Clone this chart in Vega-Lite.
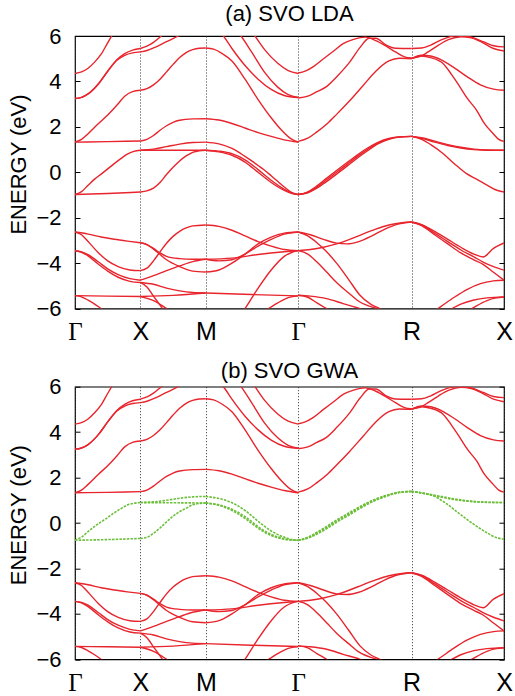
{
"$schema": "https://vega.github.io/schema/vega-lite/v6.json",
"background": "white",
"padding": {"left": 7, "top": 2, "right": 0, "bottom": 0},
"bounds": "flush",
"spacing": 77.7,
"config": {"view": {"stroke": "black", "strokeWidth": 1.2}, "font": "Liberation Sans"},
"datasets": {
"red": [
{"b":"GX1","k":0,"e":4.35},{"b":"GX1","k":0.05,"e":4.42},{"b":"GX1","k":0.1,"e":4.58},{"b":"GX1","k":0.15,"e":4.85},{"b":"GX1","k":0.2,"e":5.2},{"b":"GX1","k":0.25,"e":5.7},{"b":"GX1","k":0.3,"e":6.2},
{"b":"GX2a","k":0,"e":3.25},{"b":"GX2a","k":0.05,"e":3.3},{"b":"GX2a","k":0.1,"e":3.45},{"b":"GX2a","k":0.18,"e":3.9},{"b":"GX2a","k":0.25,"e":4.45},{"b":"GX2a","k":0.32,"e":4.95},{"b":"GX2a","k":0.38,"e":5.22},{"b":"GX2a","k":0.44,"e":5.38},{"b":"GX2a","k":0.5,"e":5.45},
{"b":"GX2b","k":0,"e":3.25},{"b":"GX2b","k":0.05,"e":3.3},{"b":"GX2b","k":0.1,"e":3.45},{"b":"GX2b","k":0.18,"e":3.9},{"b":"GX2b","k":0.25,"e":4.45},{"b":"GX2b","k":0.32,"e":4.93},{"b":"GX2b","k":0.38,"e":5.15},{"b":"GX2b","k":0.44,"e":5.26},{"b":"GX2b","k":0.5,"e":5.3},
{"b":"GX3","k":0,"e":1.33},{"b":"GX3","k":0.05,"e":1.45},{"b":"GX3","k":0.1,"e":1.7},{"b":"GX3","k":0.18,"e":2.15},{"b":"GX3","k":0.25,"e":2.52},{"b":"GX3","k":0.32,"e":2.95},{"b":"GX3","k":0.38,"e":3.35},{"b":"GX3","k":0.44,"e":3.55},{"b":"GX3","k":0.5,"e":3.61},
{"b":"GX4","k":0,"e":1.33},{"b":"GX4","k":0.25,"e":1.35},{"b":"GX4","k":0.5,"e":1.38},
{"b":"OGX1","k":0,"e":-2.63},{"b":"OGX1","k":0.1,"e":-2.72},{"b":"OGX1","k":0.2,"e":-2.85},{"b":"OGX1","k":0.3,"e":-2.95},{"b":"OGX1","k":0.4,"e":-3.03},{"b":"OGX1","k":0.5,"e":-3.1},
{"b":"OGX2","k":0,"e":-2.63},{"b":"OGX2","k":0.05,"e":-2.75},{"b":"OGX2","k":0.1,"e":-3.05},{"b":"OGX2","k":0.18,"e":-3.55},{"b":"OGX2","k":0.25,"e":-3.9},{"b":"OGX2","k":0.33,"e":-4.15},{"b":"OGX2","k":0.42,"e":-4.3},{"b":"OGX2","k":0.5,"e":-4.33},
{"b":"OGX3","k":0,"e":-3.45},{"b":"OGX3","k":0.05,"e":-3.5},{"b":"OGX3","k":0.1,"e":-3.62},{"b":"OGX3","k":0.18,"e":-3.95},{"b":"OGX3","k":0.25,"e":-4.25},{"b":"OGX3","k":0.33,"e":-4.5},{"b":"OGX3","k":0.42,"e":-4.68},{"b":"OGX3","k":0.5,"e":-4.75},
{"b":"OGX4","k":0,"e":-3.45},{"b":"OGX4","k":0.05,"e":-3.52},{"b":"OGX4","k":0.1,"e":-3.68},{"b":"OGX4","k":0.18,"e":-4.05},{"b":"OGX4","k":0.25,"e":-4.35},{"b":"OGX4","k":0.33,"e":-4.62},{"b":"OGX4","k":0.42,"e":-4.8},{"b":"OGX4","k":0.5,"e":-4.85},
{"b":"OGX5","k":0,"e":-5.43},{"b":"OGX5","k":0.25,"e":-5.45},{"b":"OGX5","k":0.5,"e":-5.47},
{"b":"OGX6","k":0,"e":-5.43},{"b":"OGX6","k":0.05,"e":-5.48},{"b":"OGX6","k":0.1,"e":-5.63},{"b":"OGX6","k":0.15,"e":-5.8},{"b":"OGX6","k":0.2,"e":-6.0},{"b":"OGX6","k":0.25,"e":-6.2},
{"b":"XM1","k":0.5,"e":5.45},{"b":"XM1","k":0.55,"e":5.55},{"b":"XM1","k":0.6,"e":5.72},{"b":"XM1","k":0.66,"e":6.0},{"b":"XM1","k":0.72,"e":6.3},
{"b":"XM2","k":0.5,"e":5.3},{"b":"XM2","k":0.55,"e":5.36},{"b":"XM2","k":0.62,"e":5.52},{"b":"XM2","k":0.7,"e":5.75},{"b":"XM2","k":0.79,"e":6.0},{"b":"XM2","k":0.85,"e":6.2},
{"b":"XM3","k":0.5,"e":3.61},{"b":"XM3","k":0.55,"e":3.68},{"b":"XM3","k":0.6,"e":3.85},{"b":"XM3","k":0.65,"e":4.1},{"b":"XM3","k":0.7,"e":4.42},{"b":"XM3","k":0.75,"e":4.75},{"b":"XM3","k":0.8,"e":5.05},{"b":"XM3","k":0.85,"e":5.27},{"b":"XM3","k":0.9,"e":5.4},{"b":"XM3","k":0.95,"e":5.46},{"b":"XM3","k":1.0,"e":5.47},
{"b":"XM4","k":0.5,"e":1.38},{"b":"XM4","k":0.55,"e":1.45},{"b":"XM4","k":0.6,"e":1.62},{"b":"XM4","k":0.65,"e":1.85},{"b":"XM4","k":0.7,"e":2.05},{"b":"XM4","k":0.75,"e":2.2},{"b":"XM4","k":0.8,"e":2.29},{"b":"XM4","k":0.9,"e":2.35},{"b":"XM4","k":1.0,"e":2.36},
{"b":"OXM1","k":0.5,"e":-3.1},{"b":"OXM1","k":0.55,"e":-3.18},{"b":"OXM1","k":0.6,"e":-3.35},{"b":"OXM1","k":0.65,"e":-3.55},{"b":"OXM1","k":0.7,"e":-3.7},{"b":"OXM1","k":0.8,"e":-3.8},{"b":"OXM1","k":0.9,"e":-3.83},{"b":"OXM1","k":1.0,"e":-3.83},
{"b":"OXM2","k":0.5,"e":-3.1},{"b":"OXM2","k":0.55,"e":-3.18},{"b":"OXM2","k":0.6,"e":-3.38},{"b":"OXM2","k":0.65,"e":-3.62},{"b":"OXM2","k":0.7,"e":-3.85},{"b":"OXM2","k":0.8,"e":-4.15},{"b":"OXM2","k":0.9,"e":-4.35},{"b":"OXM2","k":1.0,"e":-4.39},
{"b":"OXM3","k":0.5,"e":-4.33},{"b":"OXM3","k":0.55,"e":-4.22},{"b":"OXM3","k":0.6,"e":-3.9},{"b":"OXM3","k":0.65,"e":-3.5},{"b":"OXM3","k":0.7,"e":-3.12},{"b":"OXM3","k":0.75,"e":-2.82},{"b":"OXM3","k":0.8,"e":-2.6},{"b":"OXM3","k":0.85,"e":-2.45},{"b":"OXM3","k":0.9,"e":-2.36},{"b":"OXM3","k":1.0,"e":-2.32},
{"b":"OXM4","k":0.5,"e":-4.75},{"b":"OXM4","k":0.6,"e":-4.55},{"b":"OXM4","k":0.7,"e":-4.33},{"b":"OXM4","k":0.8,"e":-4.12},{"b":"OXM4","k":0.9,"e":-3.93},{"b":"OXM4","k":1.0,"e":-3.83},
{"b":"OXM5","k":0.5,"e":-4.85},{"b":"OXM5","k":0.6,"e":-4.93},{"b":"OXM5","k":0.7,"e":-5.1},{"b":"OXM5","k":0.8,"e":-5.22},{"b":"OXM5","k":0.9,"e":-5.29},{"b":"OXM5","k":1.0,"e":-5.31},
{"b":"OXM6","k":0.5,"e":-5.47},{"b":"OXM6","k":0.75,"e":-5.42},{"b":"OXM6","k":1.0,"e":-5.31},
{"b":"OXM7","k":0.5,"e":-4.85},{"b":"OXM7","k":0.55,"e":-5.05},{"b":"OXM7","k":0.6,"e":-5.45},{"b":"OXM7","k":0.65,"e":-5.85},{"b":"OXM7","k":0.7,"e":-6.25},
{"b":"OXM8","k":0.5,"e":-5.47},{"b":"OXM8","k":0.6,"e":-5.65},{"b":"OXM8","k":0.7,"e":-6.0},{"b":"OXM8","k":0.75,"e":-6.2},
{"b":"MG1","k":1.0,"e":5.47},{"b":"MG1","k":1.06,"e":5.42},{"b":"MG1","k":1.12,"e":5.25},{"b":"MG1","k":1.2,"e":4.9},{"b":"MG1","k":1.3,"e":4.1},{"b":"MG1","k":1.4,"e":3.2},{"b":"MG1","k":1.5,"e":2.4},{"b":"MG1","k":1.58,"e":1.85},{"b":"MG1","k":1.65,"e":1.48},{"b":"MG1","k":1.7071,"e":1.33},
{"b":"MG2","k":1.0,"e":2.36},{"b":"MG2","k":1.1,"e":2.3},{"b":"MG2","k":1.2,"e":2.15},{"b":"MG2","k":1.3,"e":1.95},{"b":"MG2","k":1.4,"e":1.75},{"b":"MG2","k":1.5,"e":1.58},{"b":"MG2","k":1.6,"e":1.43},{"b":"MG2","k":1.7071,"e":1.33},
{"b":"MG3","k":1.05,"e":6.5},{"b":"MG3","k":1.135,"e":6.0},{"b":"MG3","k":1.2,"e":5.45},{"b":"MG3","k":1.3,"e":4.7},{"b":"MG3","k":1.4,"e":4.1},{"b":"MG3","k":1.5,"e":3.65},{"b":"MG3","k":1.6,"e":3.38},{"b":"MG3","k":1.7071,"e":3.29},
{"b":"MG4","k":1.2,"e":6.5},{"b":"MG4","k":1.27,"e":6.0},{"b":"MG4","k":1.35,"e":5.3},{"b":"MG4","k":1.45,"e":4.4},{"b":"MG4","k":1.55,"e":3.75},{"b":"MG4","k":1.63,"e":3.42},{"b":"MG4","k":1.7071,"e":3.29},
{"b":"MG5","k":1.3,"e":6.6},{"b":"MG5","k":1.376,"e":6.0},{"b":"MG5","k":1.45,"e":5.4},{"b":"MG5","k":1.55,"e":4.8},{"b":"MG5","k":1.63,"e":4.48},{"b":"MG5","k":1.7071,"e":4.35},
{"b":"OMG1","k":1.0,"e":-2.32},{"b":"OMG1","k":1.1,"e":-2.38},{"b":"OMG1","k":1.2,"e":-2.55},{"b":"OMG1","k":1.3,"e":-2.8},{"b":"OMG1","k":1.4,"e":-3.05},{"b":"OMG1","k":1.5,"e":-3.25},{"b":"OMG1","k":1.6,"e":-3.4},{"b":"OMG1","k":1.7071,"e":-3.45},
{"b":"OMG2","k":1.0,"e":-3.83},{"b":"OMG2","k":1.2,"e":-3.78},{"b":"OMG2","k":1.4,"e":-3.62},{"b":"OMG2","k":1.6,"e":-3.5},{"b":"OMG2","k":1.7071,"e":-3.45},
{"b":"OMG3","k":1.0,"e":-3.83},{"b":"OMG3","k":1.1,"e":-3.9},{"b":"OMG3","k":1.2,"e":-3.85},{"b":"OMG3","k":1.3,"e":-3.6},{"b":"OMG3","k":1.4,"e":-3.25},{"b":"OMG3","k":1.5,"e":-2.95},{"b":"OMG3","k":1.6,"e":-2.72},{"b":"OMG3","k":1.7071,"e":-2.63},
{"b":"OMG4","k":1.0,"e":-4.39},{"b":"OMG4","k":1.1,"e":-4.3},{"b":"OMG4","k":1.2,"e":-4.0},{"b":"OMG4","k":1.3,"e":-3.6},{"b":"OMG4","k":1.4,"e":-3.15},{"b":"OMG4","k":1.5,"e":-2.85},{"b":"OMG4","k":1.6,"e":-2.68},{"b":"OMG4","k":1.7071,"e":-2.63},
{"b":"OMG5","k":1.0,"e":-5.31},{"b":"OMG5","k":1.35,"e":-5.38},{"b":"OMG5","k":1.7071,"e":-5.44},
{"b":"OMG6","k":1.25,"e":-6.4},{"b":"OMG6","k":1.3,"e":-6.0},{"b":"OMG6","k":1.4,"e":-5.1},{"b":"OMG6","k":1.5,"e":-4.3},{"b":"OMG6","k":1.6,"e":-3.7},{"b":"OMG6","k":1.66,"e":-3.52},{"b":"OMG6","k":1.7071,"e":-3.45},
{"b":"OMG7","k":1.42,"e":-6.2},{"b":"OMG7","k":1.48,"e":-6.0},{"b":"OMG7","k":1.55,"e":-5.75},{"b":"OMG7","k":1.63,"e":-5.52},{"b":"OMG7","k":1.7071,"e":-5.44},
{"b":"GReg","k":1.7071,"e":1.36},{"b":"GReg","k":1.78,"e":1.5},{"b":"GReg","k":1.85,"e":1.78},{"b":"GReg","k":1.93,"e":2.15},{"b":"GReg","k":2.0,"e":2.55},{"b":"GReg","k":2.1,"e":3.15},{"b":"GReg","k":2.2,"e":3.8},{"b":"GReg","k":2.3,"e":4.45},{"b":"GReg","k":2.4,"e":4.9},{"b":"GReg","k":2.48,"e":5.02},{"b":"GReg","k":2.5731,"e":5.0},
{"b":"GRp","k":1.7071,"e":3.27},{"b":"GRp","k":1.78,"e":3.35},{"b":"GRp","k":1.85,"e":3.55},{"b":"GRp","k":1.92,"e":3.76},{"b":"GRp","k":2.0,"e":4.2},{"b":"GRp","k":2.1,"e":4.85},{"b":"GRp","k":2.18,"e":5.5},{"b":"GRp","k":2.25,"e":5.9},{"b":"GRp","k":2.3,"e":5.9},{"b":"GRp","k":2.38,"e":5.6},{"b":"GRp","k":2.45,"e":5.46},{"b":"GRp","k":2.5731,"e":5.45},
{"b":"GRq","k":1.7071,"e":4.37},{"b":"GRq","k":1.76,"e":4.45},{"b":"GRq","k":1.82,"e":4.64},{"b":"GRq","k":1.9,"e":5.0},{"b":"GRq","k":1.98,"e":5.35},{"b":"GRq","k":2.05,"e":5.66},{"b":"GRq","k":2.13,"e":5.85},{"b":"GRq","k":2.22,"e":5.95},{"b":"GRq","k":2.3,"e":5.8},{"b":"GRq","k":2.38,"e":5.55},{"b":"GRq","k":2.45,"e":5.3},{"b":"GRq","k":2.52,"e":5.08},{"b":"GRq","k":2.5731,"e":5.03},
{"b":"OGR1","k":1.7071,"e":-2.63},{"b":"OGR1","k":1.8,"e":-2.75},{"b":"OGR1","k":1.9,"e":-2.95},{"b":"OGR1","k":2.0,"e":-3.12},{"b":"OGR1","k":2.08,"e":-3.15},{"b":"OGR1","k":2.17,"e":-3.05},{"b":"OGR1","k":2.27,"e":-2.8},{"b":"OGR1","k":2.37,"e":-2.5},{"b":"OGR1","k":2.47,"e":-2.28},{"b":"OGR1","k":2.5731,"e":-2.19},
{"b":"OGR2","k":1.7071,"e":-3.45},{"b":"OGR2","k":1.8,"e":-3.4},{"b":"OGR2","k":1.9,"e":-3.3},{"b":"OGR2","k":2.0,"e":-3.15},{"b":"OGR2","k":2.1,"e":-2.95},{"b":"OGR2","k":2.2,"e":-2.72},{"b":"OGR2","k":2.3,"e":-2.5},{"b":"OGR2","k":2.4,"e":-2.32},{"b":"OGR2","k":2.5,"e":-2.22},{"b":"OGR2","k":2.5731,"e":-2.19},
{"b":"OGR3","k":1.7071,"e":-2.63},{"b":"OGR3","k":1.78,"e":-2.8},{"b":"OGR3","k":1.85,"e":-3.1},{"b":"OGR3","k":1.924,"e":-3.5},{"b":"OGR3","k":2.0,"e":-4.0},{"b":"OGR3","k":2.09,"e":-4.7},{"b":"OGR3","k":2.179,"e":-5.41},{"b":"OGR3","k":2.26,"e":-5.8},{"b":"OGR3","k":2.33,"e":-6.0},{"b":"OGR3","k":2.4,"e":-6.2},
{"b":"OGR4","k":1.7071,"e":-3.45},{"b":"OGR4","k":1.78,"e":-3.6},{"b":"OGR4","k":1.85,"e":-3.95},{"b":"OGR4","k":1.924,"e":-4.39},{"b":"OGR4","k":2.0,"e":-4.85},{"b":"OGR4","k":2.09,"e":-5.3},{"b":"OGR4","k":2.179,"e":-5.71},{"b":"OGR4","k":2.28,"e":-5.95},{"b":"OGR4","k":2.38,"e":-6.1},
{"b":"OGR5","k":1.7071,"e":-5.41},{"b":"OGR5","k":1.8,"e":-5.45},{"b":"OGR5","k":1.924,"e":-5.56},{"b":"OGR5","k":2.05,"e":-5.78},{"b":"OGR5","k":2.179,"e":-6.0},{"b":"OGR5","k":2.25,"e":-6.15},
{"b":"OGR6","k":1.7071,"e":-5.41},{"b":"OGR6","k":1.78,"e":-5.5},{"b":"OGR6","k":1.85,"e":-5.75},{"b":"OGR6","k":1.924,"e":-6.0},{"b":"OGR6","k":2.0,"e":-6.3},
{"b":"RX1","k":2.5731,"e":5.45},{"b":"RX1","k":2.65,"e":5.47},{"b":"RX1","k":2.72,"e":5.6},{"b":"RX1","k":2.8,"e":5.83},{"b":"RX1","k":2.87,"e":5.97},{"b":"RX1","k":2.95,"e":6.02},{"b":"RX1","k":3.03,"e":5.95},{"b":"RX1","k":3.12,"e":5.75},{"b":"RX1","k":3.2,"e":5.57},{"b":"RX1","k":3.2802,"e":5.52},
{"b":"RX2","k":2.5731,"e":5.03},{"b":"RX2","k":2.64,"e":5.1},{"b":"RX2","k":2.7,"e":5.3},{"b":"RX2","k":2.78,"e":5.6},{"b":"RX2","k":2.86,"e":5.85},{"b":"RX2","k":2.95,"e":5.97},{"b":"RX2","k":3.03,"e":5.92},{"b":"RX2","k":3.12,"e":5.7},{"b":"RX2","k":3.2,"e":5.45},{"b":"RX2","k":3.2802,"e":5.34},
{"b":"RXe1","k":2.5731,"e":5.0},{"b":"RXe1","k":2.65,"e":5.15},{"b":"RXe1","k":2.72,"e":5.12},{"b":"RXe1","k":2.8,"e":4.95},{"b":"RXe1","k":2.9,"e":4.6},{"b":"RXe1","k":3.0,"e":4.2},{"b":"RXe1","k":3.1,"e":3.85},{"b":"RXe1","k":3.2,"e":3.66},{"b":"RXe1","k":3.2802,"e":3.61},
{"b":"RXe2","k":2.5731,"e":5.0},{"b":"RXe2","k":2.65,"e":5.12},{"b":"RXe2","k":2.72,"e":5.05},{"b":"RXe2","k":2.816,"e":4.78},{"b":"RXe2","k":2.88,"e":4.3},{"b":"RXe2","k":2.943,"e":3.76},{"b":"RXe2","k":3.0,"e":3.25},{"b":"RXe2","k":3.071,"e":2.73},{"b":"RXe2","k":3.13,"e":2.15},{"b":"RXe2","k":3.198,"e":1.7},{"b":"RXe2","k":3.24,"e":1.45},{"b":"RXe2","k":3.2802,"e":1.36},
{"b":"ORX1","k":2.5731,"e":-2.19},{"b":"ORX1","k":2.65,"e":-2.3},{"b":"ORX1","k":2.75,"e":-2.6},{"b":"ORX1","k":2.85,"e":-2.95},{"b":"ORX1","k":2.95,"e":-3.3},{"b":"ORX1","k":3.05,"e":-3.6},{"b":"ORX1","k":3.12,"e":-3.73},{"b":"ORX1","k":3.2,"e":-3.35},{"b":"ORX1","k":3.2802,"e":-3.11},
{"b":"ORX2","k":2.5731,"e":-2.19},{"b":"ORX2","k":2.65,"e":-2.32},{"b":"ORX2","k":2.75,"e":-2.68},{"b":"ORX2","k":2.85,"e":-3.05},{"b":"ORX2","k":2.95,"e":-3.42},{"b":"ORX2","k":3.05,"e":-3.72},{"b":"ORX2","k":3.12,"e":-3.95},{"b":"ORX2","k":3.2,"e":-4.15},{"b":"ORX2","k":3.2802,"e":-4.31},
{"b":"ORX3","k":2.5731,"e":-2.19},{"b":"ORX3","k":2.65,"e":-2.35},{"b":"ORX3","k":2.75,"e":-2.75},{"b":"ORX3","k":2.85,"e":-3.15},{"b":"ORX3","k":2.95,"e":-3.55},{"b":"ORX3","k":3.05,"e":-3.85},{"b":"ORX3","k":3.12,"e":-4.05},{"b":"ORX3","k":3.2,"e":-4.4},{"b":"ORX3","k":3.2802,"e":-4.75},
{"b":"ORX4","k":2.7,"e":-6.3},{"b":"ORX4","k":2.8,"e":-5.9},{"b":"ORX4","k":2.9,"e":-5.5},{"b":"ORX4","k":3.0,"e":-5.15},{"b":"ORX4","k":3.1,"e":-4.9},{"b":"ORX4","k":3.2,"e":-4.78},{"b":"ORX4","k":3.2802,"e":-4.75},
{"b":"ORX5","k":2.95,"e":-6.3},{"b":"ORX5","k":3.05,"e":-5.95},{"b":"ORX5","k":3.15,"e":-5.65},{"b":"ORX5","k":3.22,"e":-5.53},{"b":"ORX5","k":3.2802,"e":-5.49},
{"b":"ORX6","k":2.75,"e":-6.4},{"b":"ORX6","k":2.85,"e":-6.1},{"b":"ORX6","k":2.95,"e":-5.8},{"b":"ORX6","k":3.05,"e":-5.62},{"b":"ORX6","k":3.15,"e":-5.53},{"b":"ORX6","k":3.2802,"e":-5.49}
],
"lda": [
{"b":"TGX1","k":0,"e":-0.98},{"b":"TGX1","k":0.05,"e":-0.85},{"b":"TGX1","k":0.1,"e":-0.57},{"b":"TGX1","k":0.15,"e":-0.3},{"b":"TGX1","k":0.2,"e":-0.08},{"b":"TGX1","k":0.25,"e":0.15},{"b":"TGX1","k":0.3,"e":0.38},{"b":"TGX1","k":0.35,"e":0.6},{"b":"TGX1","k":0.4,"e":0.8},{"b":"TGX1","k":0.45,"e":0.92},{"b":"TGX1","k":0.5,"e":0.97},
{"b":"TGX2","k":0,"e":-0.98},{"b":"TGX2","k":0.25,"e":-0.93},{"b":"TGX2","k":0.5,"e":-0.87},
{"b":"TXM1","k":0.5,"e":0.97},{"b":"TXM1","k":0.75,"e":0.97},{"b":"TXM1","k":1.0,"e":0.97},
{"b":"TXM2","k":0.5,"e":0.97},{"b":"TXM2","k":0.6,"e":1.02},{"b":"TXM2","k":0.7,"e":1.13},{"b":"TXM2","k":0.8,"e":1.24},{"b":"TXM2","k":0.9,"e":1.31},{"b":"TXM2","k":1.0,"e":1.33},
{"b":"TXM3","k":0.5,"e":-0.87},{"b":"TXM3","k":0.55,"e":-0.82},{"b":"TXM3","k":0.6,"e":-0.7},{"b":"TXM3","k":0.65,"e":-0.45},{"b":"TXM3","k":0.7,"e":-0.1},{"b":"TXM3","k":0.75,"e":0.22},{"b":"TXM3","k":0.8,"e":0.5},{"b":"TXM3","k":0.85,"e":0.72},{"b":"TXM3","k":0.9,"e":0.88},{"b":"TXM3","k":0.95,"e":0.95},{"b":"TXM3","k":1.0,"e":0.97},
{"b":"TMG1","k":1.0,"e":1.33},{"b":"TMG1","k":1.1,"e":1.25},{"b":"TMG1","k":1.2,"e":1.05},{"b":"TMG1","k":1.3,"e":0.7},{"b":"TMG1","k":1.4,"e":0.3},{"b":"TMG1","k":1.45,"e":0.09},{"b":"TMG1","k":1.5,"e":-0.15},{"b":"TMG1","k":1.6,"e":-0.65},{"b":"TMG1","k":1.66,"e":-0.9},{"b":"TMG1","k":1.7071,"e":-0.98},
{"b":"TMG2","k":1.0,"e":0.97},{"b":"TMG2","k":1.1,"e":0.93},{"b":"TMG2","k":1.2,"e":0.82},{"b":"TMG2","k":1.3,"e":0.55},{"b":"TMG2","k":1.4,"e":0.12},{"b":"TMG2","k":1.5,"e":-0.35},{"b":"TMG2","k":1.6,"e":-0.75},{"b":"TMG2","k":1.66,"e":-0.92},{"b":"TMG2","k":1.7071,"e":-0.98},
{"b":"TMG3","k":1.0,"e":0.97},{"b":"TMG3","k":1.1,"e":0.9},{"b":"TMG3","k":1.2,"e":0.75},{"b":"TMG3","k":1.3,"e":0.45},{"b":"TMG3","k":1.4,"e":0.0},{"b":"TMG3","k":1.5,"e":-0.45},{"b":"TMG3","k":1.6,"e":-0.8},{"b":"TMG3","k":1.66,"e":-0.94},{"b":"TMG3","k":1.7071,"e":-0.98},
{"b":"TGR1","k":1.7071,"e":-0.98},{"b":"TGR1","k":1.78,"e":-0.88},{"b":"TGR1","k":1.85,"e":-0.65},{"b":"TGR1","k":1.92,"e":-0.35},{"b":"TGR1","k":2.0,"e":0.0},{"b":"TGR1","k":2.08,"e":0.35},{"b":"TGR1","k":2.16,"e":0.7},{"b":"TGR1","k":2.24,"e":1.02},{"b":"TGR1","k":2.32,"e":1.3},{"b":"TGR1","k":2.4,"e":1.47},{"b":"TGR1","k":2.48,"e":1.56},{"b":"TGR1","k":2.5731,"e":1.58},
{"b":"TGR2","k":1.7071,"e":-0.98},{"b":"TGR2","k":1.78,"e":-0.86},{"b":"TGR2","k":1.85,"e":-0.6},{"b":"TGR2","k":1.92,"e":-0.28},{"b":"TGR2","k":2.0,"e":0.08},{"b":"TGR2","k":2.08,"e":0.43},{"b":"TGR2","k":2.16,"e":0.77},{"b":"TGR2","k":2.24,"e":1.08},{"b":"TGR2","k":2.32,"e":1.33},{"b":"TGR2","k":2.4,"e":1.49},{"b":"TGR2","k":2.48,"e":1.56},{"b":"TGR2","k":2.5731,"e":1.58},
{"b":"TGR3","k":1.7071,"e":-0.98},{"b":"TGR3","k":1.78,"e":-0.9},{"b":"TGR3","k":1.85,"e":-0.7},{"b":"TGR3","k":1.92,"e":-0.42},{"b":"TGR3","k":2.0,"e":-0.08},{"b":"TGR3","k":2.08,"e":0.27},{"b":"TGR3","k":2.16,"e":0.63},{"b":"TGR3","k":2.24,"e":0.96},{"b":"TGR3","k":2.32,"e":1.26},{"b":"TGR3","k":2.4,"e":1.45},{"b":"TGR3","k":2.48,"e":1.55},{"b":"TGR3","k":2.5731,"e":1.58},
{"b":"TRX1","k":2.5731,"e":1.58},{"b":"TRX1","k":2.65,"e":1.5},{"b":"TRX1","k":2.75,"e":1.33},{"b":"TRX1","k":2.85,"e":1.18},{"b":"TRX1","k":2.95,"e":1.07},{"b":"TRX1","k":3.05,"e":1.0},{"b":"TRX1","k":3.15,"e":0.97},{"b":"TRX1","k":3.2802,"e":0.97},
{"b":"TRX2","k":2.5731,"e":1.58},{"b":"TRX2","k":2.65,"e":1.52},{"b":"TRX2","k":2.75,"e":1.37},{"b":"TRX2","k":2.85,"e":1.22},{"b":"TRX2","k":2.95,"e":1.1},{"b":"TRX2","k":3.05,"e":1.02},{"b":"TRX2","k":3.15,"e":0.98},{"b":"TRX2","k":3.2802,"e":0.97},
{"b":"TRX3","k":2.5731,"e":1.58},{"b":"TRX3","k":2.65,"e":1.45},{"b":"TRX3","k":2.72,"e":1.22},{"b":"TRX3","k":2.816,"e":0.82},{"b":"TRX3","k":2.9,"e":0.38},{"b":"TRX3","k":2.994,"e":-0.06},{"b":"TRX3","k":3.07,"e":-0.3},{"b":"TRX3","k":3.147,"e":-0.55},{"b":"TRX3","k":3.22,"e":-0.78},{"b":"TRX3","k":3.2802,"e":-0.87}
],
"gw": [
{"b":"gGX1","k":0,"e":-0.76},{"b":"gGX1","k":0.05,"e":-0.62},{"b":"gGX1","k":0.1,"e":-0.38},{"b":"gGX1","k":0.15,"e":-0.15},{"b":"gGX1","k":0.2,"e":0.05},{"b":"gGX1","k":0.25,"e":0.24},{"b":"gGX1","k":0.3,"e":0.45},{"b":"gGX1","k":0.35,"e":0.63},{"b":"gGX1","k":0.4,"e":0.79},{"b":"gGX1","k":0.45,"e":0.87},{"b":"gGX1","k":0.5,"e":0.9},
{"b":"gGX2","k":0,"e":-0.76},{"b":"gGX2","k":0.25,"e":-0.73},{"b":"gGX2","k":0.5,"e":-0.68},
{"b":"gXM1","k":0.5,"e":0.9},{"b":"gXM1","k":0.75,"e":0.89},{"b":"gXM1","k":1.0,"e":0.88},
{"b":"gXM2","k":0.5,"e":0.9},{"b":"gXM2","k":0.6,"e":0.93},{"b":"gXM2","k":0.7,"e":1.0},{"b":"gXM2","k":0.8,"e":1.09},{"b":"gXM2","k":0.9,"e":1.15},{"b":"gXM2","k":1.0,"e":1.17},
{"b":"gXM3","k":0.5,"e":-0.68},{"b":"gXM3","k":0.55,"e":-0.63},{"b":"gXM3","k":0.6,"e":-0.45},{"b":"gXM3","k":0.65,"e":-0.22},{"b":"gXM3","k":0.7,"e":0.05},{"b":"gXM3","k":0.75,"e":0.3},{"b":"gXM3","k":0.8,"e":0.5},{"b":"gXM3","k":0.85,"e":0.65},{"b":"gXM3","k":0.9,"e":0.8},{"b":"gXM3","k":0.95,"e":0.86},{"b":"gXM3","k":1.0,"e":0.88},
{"b":"gMG1","k":1.0,"e":1.17},{"b":"gMG1","k":1.1,"e":1.08},{"b":"gMG1","k":1.223,"e":0.83},{"b":"gMG1","k":1.3,"e":0.55},{"b":"gMG1","k":1.427,"e":-0.05},{"b":"gMG1","k":1.5,"e":-0.35},{"b":"gMG1","k":1.606,"e":-0.64},{"b":"gMG1","k":1.66,"e":-0.73},{"b":"gMG1","k":1.7071,"e":-0.76},
{"b":"gMG2","k":1.0,"e":0.88},{"b":"gMG2","k":1.1,"e":0.8},{"b":"gMG2","k":1.223,"e":0.54},{"b":"gMG2","k":1.3,"e":0.28},{"b":"gMG2","k":1.427,"e":-0.27},{"b":"gMG2","k":1.5,"e":-0.5},{"b":"gMG2","k":1.606,"e":-0.7},{"b":"gMG2","k":1.66,"e":-0.75},{"b":"gMG2","k":1.7071,"e":-0.76},
{"b":"gMG3","k":1.0,"e":0.88},{"b":"gMG3","k":1.1,"e":0.78},{"b":"gMG3","k":1.223,"e":0.48},{"b":"gMG3","k":1.3,"e":0.2},{"b":"gMG3","k":1.427,"e":-0.33},{"b":"gMG3","k":1.5,"e":-0.55},{"b":"gMG3","k":1.606,"e":-0.72},{"b":"gMG3","k":1.66,"e":-0.75},{"b":"gMG3","k":1.7071,"e":-0.76},
{"b":"gGR1","k":1.7071,"e":-0.76},{"b":"gGR1","k":1.78,"e":-0.65},{"b":"gGR1","k":1.85,"e":-0.45},{"b":"gGR1","k":1.924,"e":-0.2},{"b":"gGR1","k":2.0,"e":0.08},{"b":"gGR1","k":2.09,"e":0.38},{"b":"gGR1","k":2.179,"e":0.68},{"b":"gGR1","k":2.28,"e":0.98},{"b":"gGR1","k":2.382,"e":1.2},{"b":"gGR1","k":2.48,"e":1.35},{"b":"gGR1","k":2.5731,"e":1.39},
{"b":"gGR2","k":1.7071,"e":-0.76},{"b":"gGR2","k":1.78,"e":-0.63},{"b":"gGR2","k":1.85,"e":-0.41},{"b":"gGR2","k":1.924,"e":-0.15},{"b":"gGR2","k":2.0,"e":0.13},{"b":"gGR2","k":2.09,"e":0.43},{"b":"gGR2","k":2.179,"e":0.72},{"b":"gGR2","k":2.28,"e":1.01},{"b":"gGR2","k":2.382,"e":1.22},{"b":"gGR2","k":2.48,"e":1.35},{"b":"gGR2","k":2.5731,"e":1.39},
{"b":"gGR3","k":1.7071,"e":-0.76},{"b":"gGR3","k":1.78,"e":-0.67},{"b":"gGR3","k":1.85,"e":-0.49},{"b":"gGR3","k":1.924,"e":-0.25},{"b":"gGR3","k":2.0,"e":0.03},{"b":"gGR3","k":2.09,"e":0.33},{"b":"gGR3","k":2.179,"e":0.64},{"b":"gGR3","k":2.28,"e":0.95},{"b":"gGR3","k":2.382,"e":1.18},{"b":"gGR3","k":2.48,"e":1.34},{"b":"gGR3","k":2.5731,"e":1.39},
{"b":"gRX1","k":2.5731,"e":1.39},{"b":"gRX1","k":2.65,"e":1.32},{"b":"gRX1","k":2.75,"e":1.2},{"b":"gRX1","k":2.816,"e":1.12},{"b":"gRX1","k":2.9,"e":1.03},{"b":"gRX1","k":3.0,"e":0.96},{"b":"gRX1","k":3.071,"e":0.93},{"b":"gRX1","k":3.2,"e":0.9},{"b":"gRX1","k":3.2802,"e":0.9},
{"b":"gRX2","k":2.5731,"e":1.39},{"b":"gRX2","k":2.65,"e":1.33},{"b":"gRX2","k":2.75,"e":1.22},{"b":"gRX2","k":2.816,"e":1.15},{"b":"gRX2","k":2.9,"e":1.06},{"b":"gRX2","k":3.0,"e":0.98},{"b":"gRX2","k":3.071,"e":0.94},{"b":"gRX2","k":3.2,"e":0.91},{"b":"gRX2","k":3.2802,"e":0.9},
{"b":"gRX3","k":2.5731,"e":1.39},{"b":"gRX3","k":2.65,"e":1.32},{"b":"gRX3","k":2.739,"e":1.2},{"b":"gRX3","k":2.84,"e":0.85},{"b":"gRX3","k":2.943,"e":0.39},{"b":"gRX3","k":3.04,"e":-0.02},{"b":"gRX3","k":3.147,"e":-0.42},{"b":"gRX3","k":3.22,"e":-0.64},{"b":"gRX3","k":3.2802,"e":-0.71}
]
},
"vconcat": [
{
"width": 429, "height": 272.6,
"title": {"text": "(a) SVO LDA", "fontSize": 22, "fontWeight": "normal", "font": "Liberation Sans", "color": "black", "offset": -1},
"layer": [
{"data": {"name": "red"}, "mark": {"type": "line", "color": "#e8242c", "strokeWidth": 1.4, "interpolate": "monotone", "clip": true},
"encoding": {
"x": {"field": "k", "type": "quantitative", "scale": {"domain": [0, 3.2802], "nice": false, "zero": false},
"axis": {"values": [0, 0.5, 1, 1.7071, 2.5731, 3.2802], "labelExpr": "datum.value < 0.25 ? 'Γ' : datum.value < 0.75 ? 'X' : datum.value < 1.3 ? 'M' : datum.value < 2.1 ? 'Γ' : datum.value < 3 ? 'R' : 'X'", "title": null, "ticks": false, "domain": false, "grid": true, "gridDash": [1, 2], "gridColor": "#333333", "gridWidth": 1, "labelFontSize": 25, "labelPadding": 11, "labelFlush": false, "labelOverlap": false, "labelColor": "black", "labelFont": {"condition": {"test": "datum.value < 0.25 || (datum.value > 1.3 && datum.value < 2.1)", "value": "Liberation Serif"}, "value": "Liberation Sans"}}},
"y": {"field": "e", "type": "quantitative", "scale": {"domain": [-6, 6], "nice": false, "zero": false},
"axis": {"values": [-6, -4, -2, 0, 2, 4, 6], "title": "ENERGY (eV)", "titleFontSize": 22, "titleFontWeight": "normal", "titleColor": "black", "titleFont": "Liberation Sans", "titlePadding": 5, "titleY": 128, "labelFontSize": 22, "labelColor": "black", "labelFont": "Liberation Sans", "tickSize": -5, "tickColor": "black", "labelPadding": 19, "domain": false, "grid": false}},
"detail": {"field": "b"}}},
{"data": {"name": "lda"}, "mark": {"type": "line", "color": "#e8242c", "strokeWidth": 1.4, "interpolate": "monotone", "clip": true},
"encoding": {
"x": {"field": "k", "type": "quantitative", "scale": {"domain": [0, 3.2802], "nice": false, "zero": false}},
"y": {"field": "e", "type": "quantitative", "scale": {"domain": [-6, 6], "nice": false, "zero": false},
"axis": {"orient": "right", "values": [-6, -4, -2, 0, 2, 4, 6], "labels": false, "title": null, "tickSize": -5, "tickColor": "black", "domain": false, "grid": false}},
"detail": {"field": "b"}}}
],
"resolve": {"axis": {"y": "independent"}}
},
{
"width": 429, "height": 272.6,
"title": {"text": "(b) SVO GWA", "fontSize": 22, "fontWeight": "normal", "font": "Liberation Sans", "color": "black", "offset": -7},
"layer": [
{"data": {"name": "red"}, "mark": {"type": "line", "color": "#e8242c", "strokeWidth": 1.4, "interpolate": "monotone", "clip": true},
"encoding": {
"x": {"field": "k", "type": "quantitative", "scale": {"domain": [0, 3.2802], "nice": false, "zero": false},
"axis": {"values": [0, 0.5, 1, 1.7071, 2.5731, 3.2802], "labelExpr": "datum.value < 0.25 ? 'Γ' : datum.value < 0.75 ? 'X' : datum.value < 1.3 ? 'M' : datum.value < 2.1 ? 'Γ' : datum.value < 3 ? 'R' : 'X'", "title": null, "ticks": false, "domain": false, "grid": true, "gridDash": [1, 2], "gridColor": "#333333", "gridWidth": 1, "labelFontSize": 25, "labelPadding": 11, "labelFlush": false, "labelOverlap": false, "labelColor": "black", "labelFont": {"condition": {"test": "datum.value < 0.25 || (datum.value > 1.3 && datum.value < 2.1)", "value": "Liberation Serif"}, "value": "Liberation Sans"}}},
"y": {"field": "e", "type": "quantitative", "scale": {"domain": [-6, 6], "nice": false, "zero": false},
"axis": {"values": [-6, -4, -2, 0, 2, 4, 6], "title": "ENERGY (eV)", "titleFontSize": 22, "titleFontWeight": "normal", "titleColor": "black", "titleFont": "Liberation Sans", "titlePadding": 5, "titleY": 128, "labelFontSize": 22, "labelColor": "black", "labelFont": "Liberation Sans", "tickSize": -5, "tickColor": "black", "labelPadding": 19, "domain": false, "grid": false}},
"detail": {"field": "b"}}},
{"data": {"name": "gw"}, "mark": {"type": "line", "color": "#6cbf3a", "strokeWidth": 1.6, "strokeDash": [2.5, 1.2], "interpolate": "monotone", "clip": true},
"encoding": {
"x": {"field": "k", "type": "quantitative", "scale": {"domain": [0, 3.2802], "nice": false, "zero": false}},
"y": {"field": "e", "type": "quantitative", "scale": {"domain": [-6, 6], "nice": false, "zero": false},
"axis": {"orient": "right", "values": [-6, -4, -2, 0, 2, 4, 6], "labels": false, "title": null, "tickSize": -5, "tickColor": "black", "domain": false, "grid": false}},
"detail": {"field": "b"}}}
],
"resolve": {"axis": {"y": "independent"}}
}
]
}
